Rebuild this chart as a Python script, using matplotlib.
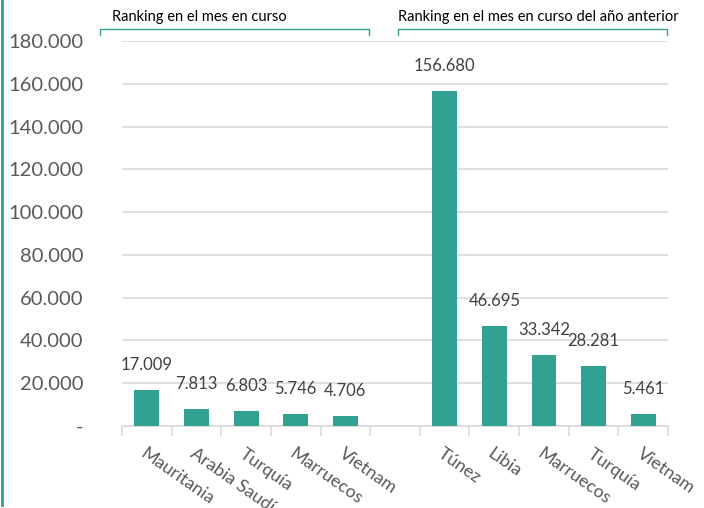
import matplotlib.pyplot as plt
from matplotlib.lines import Line2D
from matplotlib.ticker import FuncFormatter

# Ranking de países: mes en curso vs mismo mes del año anterior
paises_actual = ["Mauritania", "Arabia Saudí", "Turquía", "Marruecos", "Vietnam"]
valores_actual = [17009, 7813, 6803, 5746, 4706]
paises_anterior = ["Túnez", "Libia", "Marruecos", "Turquía", "Vietnam"]
valores_anterior = [156680, 46695, 33342, 28281, 5461]
titulo_actual = "Ranking en el mes en curso"
titulo_anterior = "Ranking en el mes en curso del año anterior"

VERDE = "#33a192"
GRIS = "#595959"

plt.rcParams['font.family'] = ['Lato', 'DejaVu Sans']

etiquetas = paises_actual + [""] + paises_anterior
valores = valores_actual + [None] + valores_anterior

fig = plt.figure(figsize=(7.04, 5.08), dpi=100)
ax = fig.add_axes([122 / 704, 1 - 426 / 508, 546 / 704, 385 / 508])

pos = [i for i, v in enumerate(valores) if v is not None]
alturas = [v for v in valores if v is not None]
barras = ax.bar(pos, alturas, width=0.5, color=VERDE, zorder=3)

for x, v in zip(pos, alturas):
    txt = f"{v:,}".replace(",", ".")
    ax.annotate(txt, (x, v), xytext=(0, 18), textcoords="offset points",
                ha="center", va="center", fontsize=12, color="#404040")

ax.set_xlim(-0.5, 10.5)
ax.set_ylim(0, 180000)
ax.set_yticks(range(0, 180001, 20000))
ax.yaxis.set_major_formatter(FuncFormatter(
    lambda y, _: "-" if y == 0 else f"{int(y):,}".replace(",", ".")))
ax.tick_params(axis="y", length=0, labelsize=14.5, labelcolor=GRIS, pad=28)
ax.grid(axis="y", color="#d9d9d9", lw=1.2, zorder=0)

ax.set_xticks(range(len(etiquetas)))
ax.set_xticklabels(etiquetas, rotation=-35, ha="left", va="top",
                   rotation_mode="anchor", fontsize=13, color=GRIS)
ax.tick_params(axis="x", which="major", length=0, pad=14)
ax.set_xticks([i - 0.5 for i in range(len(etiquetas) + 1)], minor=True)
ax.tick_params(axis="x", which="minor", length=7, color="#d9d9d9", width=1.2)

for s in ["left", "right", "top"]:
    ax.spines[s].set_visible(False)
ax.spines["bottom"].set_color("#d9d9d9")
ax.spines["bottom"].set_linewidth(1.2)

# corchetes de los grupos
def corchete(x0, x1, texto, xt):
    y = 1 - 29 / 508
    y2 = 1 - 35 / 508
    fig.add_artist(Line2D([x0 / 704, x0 / 704, x1 / 704, x1 / 704], [y2, y, y, y2],
                          color=VERDE, lw=1))
    fig.text(xt / 704, 1 - 17 / 508, texto, fontsize=10.5, color="black",
             ha="left", va="center")

corchete(100, 369, titulo_actual, 112)
corchete(398, 667, titulo_anterior, 398)

# borde izquierdo del recuadro
fig.add_artist(Line2D([1.5 / 704, 1.5 / 704], [0.005, 1], color=VERDE, lw=2))

fig.savefig("out.png", dpi=100)
